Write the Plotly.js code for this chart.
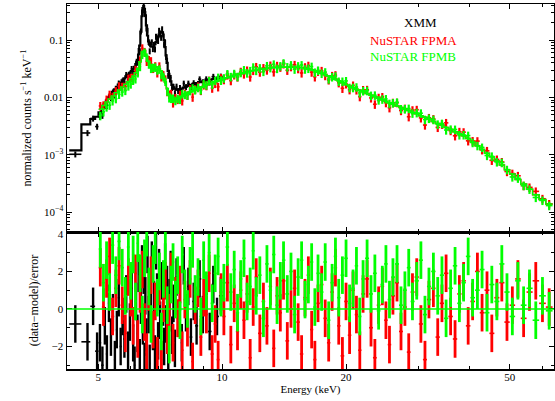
<!DOCTYPE html>
<html><head><meta charset="utf-8">
<script src="https://cdn.plot.ly/plotly-3.0.1.min.js"></script>
<style>html,body{margin:0;padding:0;background:#fff}#chart{width:555px;height:401px}</style>
</head><body><div id="chart"></div>
<script>
// ---------- DATA ----------
const seriesNames = ['XMM', 'NuSTAR FPMA', 'NuSTAR FPMB'];
const xTickVals = [5, 10, 20, 50];
const xTickText = ['5', '10', '20', '50'];
const xMinorVals = [6, 7, 8, 9, 30, 40, 60];
const yTopTickVals = [1e-4, 1e-3, 0.01, 0.1];
const yTopTickText = ['10<sup>\u22124</sup>', '10<sup>\u22123</sup>', '0.01', '0.1'];
const yTopMinorVals = [5e-5,6e-5,7e-5,8e-5,9e-5,2e-4,3e-4,4e-4,5e-4,6e-4,7e-4,8e-4,9e-4,
  2e-3,3e-3,4e-3,5e-3,6e-3,7e-3,8e-3,9e-3,0.02,0.03,0.04,0.05,0.06,0.07,0.08,0.09,0.2,0.3,0.4];
const yBotTickVals = [-2, 0, 2, 4];
const yBotTickText = ['\u22122', '0', '2', '4'];
const yBotMinorVals = [-3, -1, 1, 3];

// XMM (black)
const xmmE = [4.40,4.71,4.86,4.97,5.05,5.12,5.19,5.25,5.31,5.37,5.43,5.49,5.55,5.61,5.67,5.73,5.79,5.85,5.91,5.97,
  6.03,6.08,6.13,6.18,6.23,6.27,6.31,6.35,6.39,6.42,6.45,6.48,6.51,6.55,6.59,6.63,6.67,6.71,6.75,6.79,
  6.83,6.87,6.91,6.95,6.99,7.03,7.07,7.11,7.15,7.19,7.23,7.27,7.31,7.35,7.40,7.45,7.50,7.56,7.62,7.68,
  7.75,7.82,7.90,7.98,8.07,8.17,8.28,8.40,8.53,8.67,8.82,8.98,9.15,9.33,9.52,9.72,9.93];
const xmmModel = [.00119,.0034,.0042,.0046,.0055,.0066,.0077,.0088,.0100,.0112,.0125,.0138,.0152,.0167,.0182,.0198,.0215,.0232,.0250,.0268,
  .0288,.0310,.0340,.0380,.0450,.0560,.080,.140,.260,.360,.390,.350,.270,.180,.120,.095,.083,.078,.076,.077,
  .080,.085,.092,.101,.112,.124,.134,.140,.138,.125,.100,.075,.054,.040,.029,.023,.019,.0165,.0150,.0142,
  .0136,.0136,.0137,.0142,.0148,.0154,.0160,.0166,.0172,.0178,.0184,.0190,.0196,.0202,.0208,.0214,.0220];
const xmmData = [.00102,.0024,.0043,.0031,.0046,.0048,.0071,.0071,.0103,.0098,.0123,.0108,.0139,.0176,.0152,.0192,.0187,.0248,.0205,.0253,
  .0315,.0265,.0258,.0392,.0405,.0650,.064,.142,.305,.335,.43,.29,.285,.160,.146,.093,.064,.084,.092,.070,
  .083,.069,.115,.108,.097,.146,.128,.110,.155,.126,.084,.090,.051,.044,.024,.024,.022,.0147,.0154,.0118,
  .0155,.0130,.0147,.0122,.0175,.0152,.0175,.0146,.0178,.0165,.0208,.0185,.0208,.0183,.0230,.0207,.0232];
const xmmResid = [-0.8,-1.75,0.14,-2.25,-1.8,-3.0,-0.9,-2.4,0.3,-1.5,-0.2,-2.7,-1.1,0.6,-2.0,-0.4,-1.6,0.8,-2.2,-0.7,
  1.1,-1.8,-3.0,0.4,-1.3,1.9,-2.6,0.2,2.4,-0.9,1.8,-2.8,0.7,-1.5,2.9,-0.3,-2.9,1.0,2.6,-1.2,
  0.5,-2.4,3.1,0.9,-1.7,2.2,-0.6,-2.7,1.5,0.1,-2.0,2.5,-0.8,1.3,-2.3,0.6,2.1,-1.4,0.3,-2.1,
  1.7,-0.5,0.9,-1.8,2.3,-0.2,1.2,-1.5,0.4,-0.9,1.6,-0.3,0.8,-1.2,1.3,-0.4,0.7];

// NuSTAR (red FPMA, green FPMB)
const nuE = [5.06,5.15,5.24,5.33,5.42,5.52,5.62,5.72,5.82,5.92,
  6.00,6.08,6.16,6.24,6.32,6.40,6.48,6.56,6.64,6.72,
  6.80,6.88,6.96,7.04,7.12,7.20,7.28,7.36,7.44,7.52,
  7.60,7.70,7.80,7.90,8.00,8.12,8.24,8.36,8.48,8.60,
  8.74,8.88,9.02,9.16,9.30,9.46,9.62,9.78,9.94,10.1,
  10.3,10.5,10.7,10.9,11.1,11.3,11.5,11.7,11.9,12.1,
  12.35,12.6,12.85,13.1,13.35,13.6,13.85,14.1,14.4,14.7,
  15.0,15.3,15.6,15.9,16.2,16.5,16.8,17.1,17.45,17.8,
  18.15,18.5,18.85,19.2,19.6,20.0,20.4,20.8,21.2,21.6,
  22.0,22.5,23.0,23.5,24.0,24.5,25.0,25.5,26.0,26.6,
  27.2,27.8,28.4,29.0,29.7,30.4,31.1,31.8,32.6,33.4,
  34.2,35.0,35.9,36.8,37.7,38.6,39.6,40.6,41.7,42.8,
  44.0,45.2,46.5,47.8,49.2,50.7,52.3,54.0,55.8,57.8,
  60.0,62.3];
const nuModel = [.0062,.0072,.0083,.0094,.0106,.0120,.0135,.0152,.0170,.0190,
  .0212,.0237,.0268,.0320,.0420,.0620,.0660,.0520,.0420,.0375,
  .0350,.0340,.0335,.0320,.0290,.0240,.0185,.0142,.0115,.0100,
  .0094,.0093,.0096,.0101,.0106,.0112,.0118,.0124,.0130,.0136,
  .0143,.0150,.0157,.0164,.0171,.0179,.0187,.0195,.0203,.0211,
  .0221,.0231,.0241,.0251,.0260,.0269,.0278,.0286,.0293,.0300,
  .0308,.0316,.0323,.0329,.0334,.0338,.0341,.0343,.0344,.0343,
  .0340,.0336,.0330,.0322,.0313,.0303,.0291,.0278,.0264,.0250,
  .0236,.0222,.0208,.0195,.0180,.0166,.0156,.0147,.0139,.0132,
  .0125,.0117,.0109,.0103,.0097,.0091,.0086,.0081,.0076,.0071,
  .0067,.0063,.0059,.0055,.0052,.0048,.0045,.0042,.0038,.0035,
  .0033,.0030,.00275,.00253,.00233,.00215,.00192,.00167,.00144,.00124,
  .00106,.00092,.00078,.00066,.00055,.00046,.00037,.00031,.00025,.00020,
  .000166,.000138];
const fpmaData = [.0071,.0073,.0092,.0112,.0103,.0129,.0157,.0154,.0155,.0213,
  .0221,.0222,.0304,.0284,.0444,.0720,.0623,.0425,.0450,.0430,
  .0320,.0351,.0268,.0350,.0228,.0246,.0207,.0126,.0113,.0116,
  .0080,.0098,.0092,.0112,.0087,.0117,.0109,.0140,.0101,.0138,
  .0156,.0132,.0165,.0160,.0197,.0145,.0175,.0153,.0218,.0204,
  .0246,.0196,.0247,.0227,.0281,.0256,.0296,.0227,.0295,.0341,
  .0276,.0326,.0300,.0361,.0278,.0357,.0336,.0384,.0297,.0343,
  .0370,.0317,.0267,.0337,.0358,.0276,.0228,.0285,.0291,.0240,
  .0202,.0238,.0245,.0180,.0144,.0172,.0136,.0162,.0135,.0103,
  .0135,.0136,.0098,.0076,.0099,.0102,.0081,.0066,.0081,.0081,
  .0059,.0064,.0046,.0060,.0061,.0044,.0033,.0044,.0042,.0030,
  .0034,.0036,.00264,.00214,.00252,.00248,.00175,.00174,.00173,.00122,
  .00117,.00080,.00083,.00075,.00051,.00047,.00043,.00029,.00027,.00023,
  .000171,.000139];
const fpmbData = [.0048,.0056,.0068,.0073,.0087,.0095,.0113,.0124,.0132,.0158,
  .0171,.0198,.0210,.0268,.0345,.0560,.0610,.0500,.0380,.0320,
  .0330,.0335,.0300,.0310,.0250,.0230,.0190,.0128,.0098,.0096,
  .0096,.0088,.0095,.0092,.0115,.0112,.0109,.0131,.0145,.0135,
  .0148,.0135,.0172,.0164,.0195,.0168,.0197,.0222,.0198,.0217,
  .0257,.0229,.0259,.0230,.0270,.0301,.0266,.0291,.0336,.0294,
  .0325,.0283,.0355,.0329,.0378,.0319,.0353,.0396,.0339,.0367,
  .0310,.0352,.0367,.0311,.0320,.0345,.0273,.0296,.0262,.0276,
  .0209,.0228,.0234,.0190,.0190,.0194,.0148,.0148,.0151,.0120,
  .0130,.0131,.0108,.0109,.0090,.0093,.0094,.0078,.0080,.0082,
  .0063,.0063,.0064,.0053,.0054,.0053,.0041,.0043,.0041,.0034,
  .0035,.0027,.00278,.00276,.00222,.00222,.00216,.00163,.00144,.00134,
  .00097,.00094,.00075,.00073,.00055,.00041,.00039,.00029,.00025,.00018,
  .000160,.000130];
const fpmaResid = [2.2,0.1,1.6,2.8,-0.4,1.1,2.3,0.2,-1.3,1.7,
  0.6,-0.9,1.9,-1.6,0.8,2.1,-0.7,-2.3,0.9,1.8,
  -1.1,0.4,-2.5,1.2,-2.7,0.3,1.5,-1.4,-0.2,2.0,
  -1.8,0.7,-0.5,1.3,-2.2,0.5,-1.0,1.6,-2.8,0.2,
  1.1,-1.5,0.6,-0.3,1.9,-2.4,-0.8,-2.7,0.9,-0.4,
  1.4,-1.9,0.3,-1.2,1.0,-0.6,0.8,-2.6,0.1,1.7,
  -1.3,0.4,-0.9,1.2,-2.1,0.7,-0.2,1.5,-1.7,0.0,
  1.1,-0.7,-2.4,0.6,1.8,-1.1,-2.7,0.3,1.3,-0.5,
  -1.8,0.9,2.2,-0.9,-2.5,0.4,-1.4,1.0,-0.3,-2.2,
  0.8,1.6,-1.0,-2.6,0.2,1.2,-0.6,-1.9,0.7,1.4,
  -1.2,0.1,-2.3,0.9,1.7,-0.8,-2.7,0.5,1.1,-1.5,
  0.3,1.9,-0.4,-1.6,0.8,1.5,-0.9,0.4,2.0,-0.2,
  1.0,-1.3,0.6,1.4,-0.7,0.2,1.6,-0.5,0.9,1.5,
  0.3,0.1];
const fpmbResid = [3.2,1.4,2.6,0.9,3.4,1.8,3.6,2.2,0.7,3.3,
  1.5,2.9,0.4,3.5,1.9,-0.3,2.7,3.8,1.2,-0.8,
  2.4,3.4,0.6,2.0,-1.2,1.6,3.1,0.2,-1.9,1.3,
  2.5,0.5,1.8,-0.6,2.9,1.1,0.0,2.3,3.2,0.8,
  1.7,-0.4,2.6,1.0,3.0,0.3,1.9,2.8,0.6,1.4,
  3.3,0.9,2.1,-0.2,1.6,2.7,0.4,1.2,3.1,0.7,
  1.8,-0.5,2.4,1.0,2.9,0.2,1.5,2.6,0.8,2.0,
  -0.3,1.7,2.6,0.5,1.3,2.5,0.1,1.9,0.9,2.5,
  -0.6,1.4,2.8,0.6,1.8,2.7,0.3,1.1,2.3,-0.4,
  1.6,2.7,0.8,1.9,-0.1,1.3,2.4,0.5,1.7,2.4,
  0.2,1.0,2.2,0.4,1.5,2.6,-0.3,1.2,2.0,0.7,
  1.8,-0.5,1.1,2.3,0.3,1.4,2.8,0.6,1.0,2.1,
  -0.2,1.3,0.4,2.4,0.9,-0.4,1.5,0.2,1.1,-0.6,
  0.7,-0.1];

// ---------- HELPERS ----------
const BLACK = '#000000', RED = '#ff0000', GREEN = '#00ff00';
const FONT = 'Liberation Serif, Times New Roman, serif';

function binEdges(c) {
  const n = c.length, lo = [], hi = [];
  for (let i = 0; i < n; i++) {
    lo.push(i > 0 ? Math.sqrt(c[i-1]*c[i]) : c[0]*Math.sqrt(c[0]/c[1]));
    hi.push(i < n-1 ? Math.sqrt(c[i]*c[i+1]) : c[n-1]*Math.sqrt(c[n-1]/c[n-2]));
  }
  return {lo, hi, plus: c.map((v,i)=>hi[i]-v), minus: c.map((v,i)=>v-lo[i])};
}
function stepLine(c, m, color, width, xa, ya) {
  const e = binEdges(c), xs = [], ys = [];
  for (let i = 0; i < c.length; i++) { xs.push(e.lo[i], e.hi[i]); ys.push(m[i], m[i]); }
  return {type:'scatter', mode:'lines', x:xs, y:ys, xaxis:xa, yaxis:ya,
    line:{color, width, shape:'linear'}, hoverinfo:'skip', showlegend:false};
}
function crosses(c, v, color, errY, xa, ya, thick) {
  const e = binEdges(c);
  return {type:'scatter', mode:'markers', x:c, y:v, xaxis:xa, yaxis:ya,
    marker:{size:1, color}, showlegend:false, hoverinfo:'skip',
    error_x:{type:'data', symmetric:false, array:e.plus, arrayminus:e.minus, color, thickness:Math.min(thick,1.6), width:0},
    error_y:Object.assign({color, thickness:thick, width:0}, errY)};
}

const traces = [
  // top panel
  stepLine(xmmE, xmmModel, BLACK, 2.2, 'x', 'y'),
  crosses(xmmE, xmmData, BLACK, {type:'percent', value:12}, 'x', 'y', 2.0),
  crosses(nuE, fpmaData, RED, {type:'percent', value:17}, 'x', 'y', 2.2),
  stepLine(nuE, nuModel, RED, 1.5, 'x', 'y'),
  crosses(nuE, fpmbData, GREEN, {type:'percent', value:17}, 'x', 'y', 2.2),
  stepLine(nuE, nuModel, GREEN, 1.5, 'x', 'y'),
  // bottom panel
  crosses(xmmE, xmmResid, BLACK, {type:'constant', value:1}, 'x2', 'y2', 2.4),
  crosses(nuE, fpmaResid, RED, {type:'constant', value:1}, 'x2', 'y2', 2.8),
  crosses(nuE, fpmbResid, GREEN, {type:'constant', value:1}, 'x2', 'y2', 2.8)
];

const axBase = {showline:true, linecolor:BLACK, linewidth:1.5, mirror:'ticks', ticks:'inside',
  tickcolor:BLACK, tickwidth:1, ticklen:5, showgrid:false, zeroline:false,
  tickfont:{family:FONT, size:11, color:BLACK}};
const xRange = [Math.log10(4.2), Math.log10(64)];

const layout = {
  width:555, height:401, margin:{l:67, r:1, t:4, b:32},
  paper_bgcolor:'#ffffff', plot_bgcolor:'#ffffff', showlegend:false,
  font:{family:FONT, size:11, color:BLACK},
  xaxis:Object.assign({}, axBase, {type:'log', range:xRange, domain:[0,1], anchor:'y',
    tickmode:'array', tickvals:xTickVals, ticktext:xTickText, showticklabels:false,
    minor:{tickmode:'array', tickvals:xMinorVals, ticks:'inside', ticklen:3, tickcolor:BLACK, tickwidth:1, showgrid:false}}),
  yaxis:Object.assign({}, axBase, {type:'log', range:[Math.log10(4.5e-5), Math.log10(0.425)], domain:[0.3753,1], anchor:'x',
    tickmode:'array', tickvals:yTopTickVals, ticktext:yTopTickText,
    minor:{tickmode:'array', tickvals:yTopMinorVals, ticks:'inside', ticklen:3, tickcolor:BLACK, tickwidth:1, showgrid:false},
    title:{text:'normalized counts s<sup>\u22121</sup> keV<sup>\u22121</sup>', font:{family:FONT, size:12, color:BLACK}, standoff:10}}),
  xaxis2:Object.assign({}, axBase, {type:'log', range:xRange, domain:[0,1], anchor:'y2', matches:'x',
    tickmode:'array', tickvals:xTickVals, ticktext:xTickText, ticklabelstandoff:-3,
    minor:{tickmode:'array', tickvals:xMinorVals, ticks:'inside', ticklen:3, tickcolor:BLACK, tickwidth:1, showgrid:false},
    title:{text:'Energy (keV)', font:{family:FONT, size:11, color:BLACK}, standoff:3}}),
  yaxis2:Object.assign({}, axBase, {range:[-3.2, 4.1], domain:[0,0.3753], anchor:'x2',
    tickmode:'array', tickvals:yBotTickVals, ticktext:yBotTickText,
    minor:{tickmode:'array', tickvals:yBotMinorVals, ticks:'inside', ticklen:3, tickcolor:BLACK, tickwidth:1, showgrid:false},
    title:{text:'(data\u2212model)/error', font:{family:FONT, size:12, color:BLACK}, standoff:10}}),
  shapes:[{type:'line', xref:'paper', x0:0, x1:1, yref:'y2', y0:0, y1:0, layer:'above',
    line:{color:GREEN, width:1.5}}],
  annotations:[
    {text:seriesNames[0], xref:'paper', yref:'paper', x:0.725, y:0.948, xanchor:'center', yanchor:'middle', showarrow:false, font:{family:FONT, size:13, color:BLACK}},
    {text:seriesNames[1], xref:'paper', yref:'paper', x:0.7105, y:0.901, xanchor:'center', yanchor:'middle', showarrow:false, font:{family:FONT, size:13, color:RED}},
    {text:seriesNames[2], xref:'paper', yref:'paper', x:0.7105, y:0.855, xanchor:'center', yanchor:'middle', showarrow:false, font:{family:FONT, size:13, color:GREEN}}
  ]
};

Plotly.newPlot('chart', traces, layout, {displayModeBar:false, staticPlot:true});
</script></body></html>
